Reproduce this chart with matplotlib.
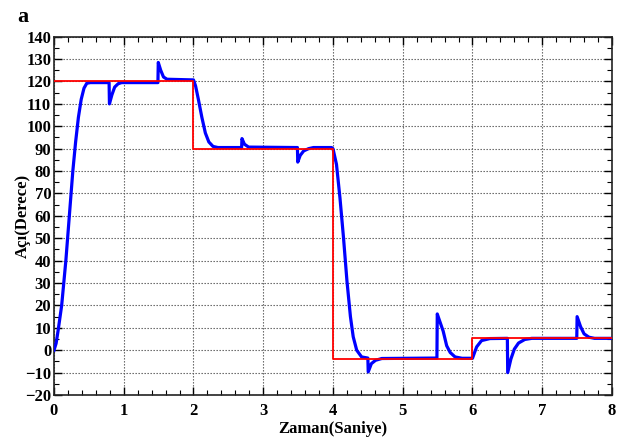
import matplotlib
matplotlib.use("Agg")
import matplotlib.pyplot as plt
from matplotlib.ticker import MultipleLocator

# Measured response (blue)
time_s = [0, 0.03, 0.06, 0.11, 0.17, 0.22, 0.27, 0.31, 0.35, 0.39, 0.43, 0.47, 0.52, 0.79,
          0.795, 0.83, 0.87, 0.92, 0.97, 1.49,
          1.495, 1.53, 1.57, 1.62, 2.0,
          2.03, 2.07, 2.12, 2.17, 2.22, 2.28, 2.35, 2.69,
          2.695, 2.73, 2.79, 3.49,
          3.495, 3.53, 3.58, 3.65, 3.72, 3.98,
          4.0, 4.05, 4.10, 4.15, 4.20, 4.25, 4.29, 4.34, 4.41, 4.5,
          4.505, 4.55, 4.61, 4.70, 5.49,
          5.495, 5.53, 5.58, 5.63, 5.68, 5.75, 5.85, 6.0,
          6.03, 6.06, 6.13, 6.25, 6.5,
          6.505, 6.55, 6.6, 6.66, 6.75, 6.85, 7.495,
          7.5, 7.55, 7.6, 7.67, 7.75, 8.0]
angle_deg = [0, 3, 9, 20, 40, 60, 80, 93, 104, 112, 117, 119.2, 119.5, 119.5,
             110, 114, 117.5, 119, 119.5, 119.5,
             128.5, 125, 122, 121, 120.7,
             118, 112, 104, 97, 93, 91, 90.5, 90.5,
             94.5, 92, 90.7, 90.5,
             84, 87, 89, 90, 90.5, 90.5,
             90, 83, 68, 50.5, 31, 15, 6, 0, -3, -3.5,
             -9.7, -6, -4.5, -3.7, -3.5,
             16.2, 13, 8.5, 2, -1, -3, -3.6, -3.6,
             -1, 1.5, 4.3, 5.2, 5.3,
             -10, -4, 0.5, 3.2, 4.8, 5.3, 5.3,
             15, 10.5, 7.3, 5.8, 5.3, 5.3]

# Reference (red step)
ref_time = [0, 2, 4, 6, 8]
ref_angle = [120, 90, -3.7, 5.5, 5.5]

x_ticks = [0, 1, 2, 3, 4, 5, 6, 7, 8]
y_ticks = [-20, -10, 0, 10, 20, 30, 40, 50, 60, 70, 80, 90, 100, 110, 120, 130, 140]

font = {'family': 'Liberation Serif', 'weight': 'bold'}

fig = plt.figure(figsize=(6.33, 4.41), dpi=100)
ax = fig.add_axes([0.0853, 0.1043, 0.8815, 0.8125])

ax.plot(time_s, angle_deg, color='#0000ff', lw=2.3, zorder=3, solid_joinstyle='round')
ax.step(ref_time, ref_angle, where='post', color='#ff0000', lw=1.3, zorder=4)

ax.set_xlim(0, 8)
ax.set_ylim(-20, 140)
ax.set_xticks(x_ticks)
ax.set_yticks(y_ticks)
ax.xaxis.set_minor_locator(MultipleLocator(0.2))
ax.yaxis.set_minor_locator(MultipleLocator(5))
ax.tick_params(which='both', direction='in', top=True, right=True, colors='black')
ax.tick_params(which='major', length=6, width=1)
ax.tick_params(which='minor', length=3.5, width=0.8)
ax.tick_params(axis='y', which='major', pad=2)
ax.tick_params(axis='x', which='major', pad=6)

for lab in ax.get_xticklabels() + ax.get_yticklabels():
    lab.set_fontfamily('Liberation Serif')
    lab.set_fontweight('bold')
    lab.set_fontsize(12)

ax.grid(True, which='major', linestyle=(0, (1.2, 1.5)), color='#555555', lw=0.8)

for s in ax.spines.values():
    s.set_linewidth(1.2)
    s.set_color('#222222')

ax.set_xlabel('Zaman(Saniye)', fontdict=font, fontsize=12)
ax.set_ylabel('Açı(Derece)', fontdict=font, fontsize=12)
ax.xaxis.set_label_coords(0.5, -0.072)
ax.yaxis.set_label_coords(-0.041, 0.5)

fig.text(0.027, 0.985, 'a', fontdict=font, fontsize=16, va='top', ha='left')

fig.savefig('out.png', dpi=100)
